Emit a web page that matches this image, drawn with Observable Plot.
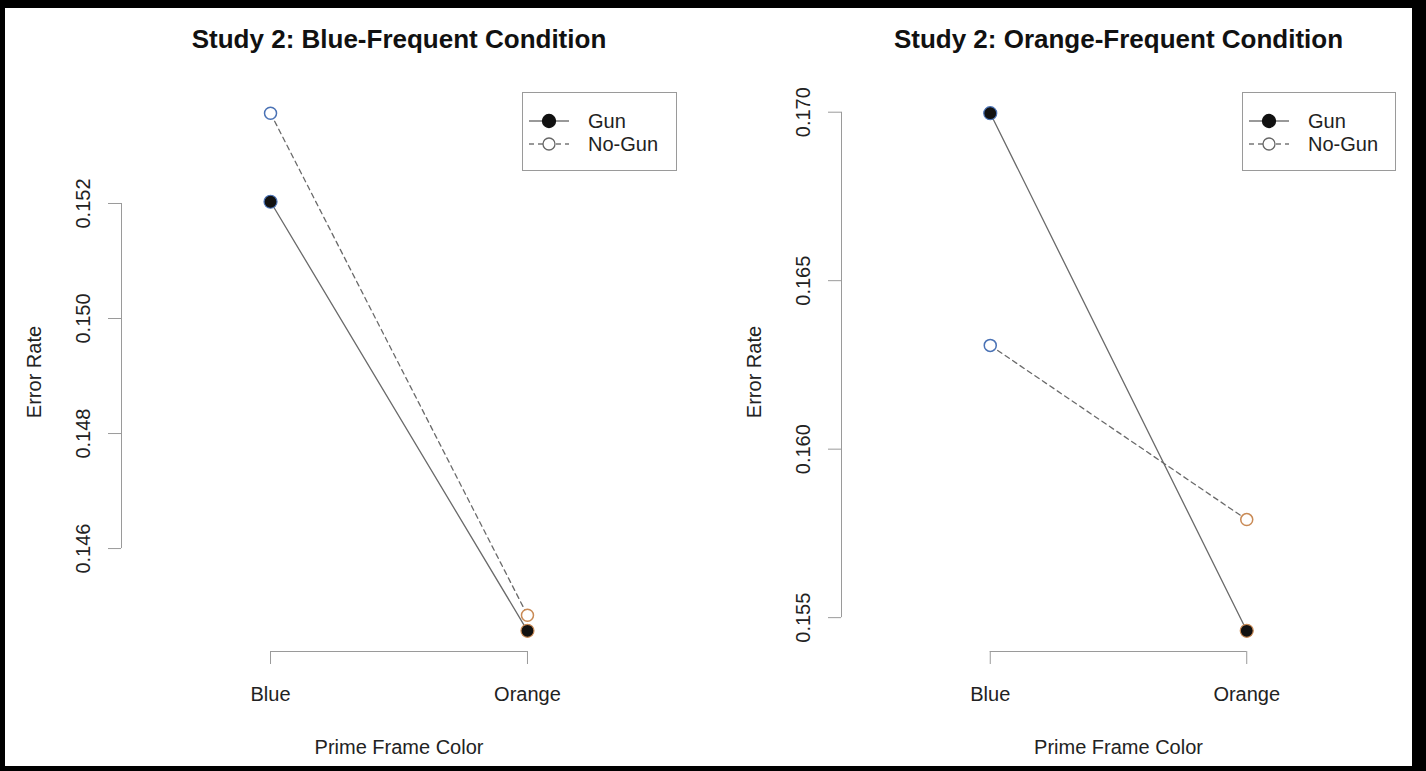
<!DOCTYPE html>
<html>
<head>
<meta charset="utf-8">
<script src="https://cdn.jsdelivr.net/npm/d3@7"></script>
<script src="https://cdn.jsdelivr.net/npm/@observablehq/plot@0.6"></script>
<style>
  body { margin: 0; background: #fff; font-family: "Liberation Sans", Arial, Helvetica, sans-serif; }
  #page { position: relative; width: 1426px; height: 771px; overflow: hidden; background: #fff; }
  #border { position: absolute; left: 0; top: 0; width: 1426px; height: 771px; box-sizing: border-box;
            border-style: solid; border-color: #000; border-width: 8px 14px 5px 5px; pointer-events: none; z-index: 10; }
  .legend { position: absolute; top: 92px; height: 79px; border: 1px solid #9a9a9a; box-sizing: border-box; background: #fff; }
  .legend .row { position: absolute; left: 0; height: 24px; width: 100%; }
  .legend svg { position: absolute; left: 5px; top: 0; }
  .legend span { position: absolute; left: 65px; top: 0; line-height: 24px; font-size: 20px; color: #222; }
</style>
</head>
<body>
<div id="page"><div id="border"></div></div>
<script>
// ---- data ----
const frames = ["Blue", "Orange"];
const conditions = ["Gun", "No-Gun"];
const panelTitles = ["Study 2: Blue-Frequent Condition", "Study 2: Orange-Frequent Condition"];
const gunBlueFrequent = [0.15203, 0.14457];
const noGunBlueFrequent = [0.15357, 0.14484];
const gunOrangeFrequent = [0.16997, 0.15461];
const noGunOrangeFrequent = [0.16308, 0.15791];
const ticksBlueFrequent = [0.146, 0.148, 0.150, 0.152];
const ticksOrangeFrequent = [0.155, 0.160, 0.165, 0.170];
const xLabel = "Prime Frame Color";
const yLabel = "Error Rate";

// ---- style ----
const frameColor = { Blue: "#4a72b5", Orange: "#c98a55" };
const axisGray = "#9a9a9a";
const lineGray = "#6a6a6a";
const textColor = "#222";
const xlim = [0.5, 2.5];

function panel({ title, gun, noGun, ticks, marginLeft, marginRight }) {
  const gunRows = frames.map((f, i) => ({ frame: f, x: i + 1, v: gun[i] }));
  const noGunRows = frames.map((f, i) => ({ frame: f, x: i + 1, v: noGun[i] }));
  const all = gun.concat(noGun);
  const lo = d3.min(all), hi = d3.max(all), r = hi - lo;
  const yDom = [lo - 0.04 * r, hi + 0.04 * r];
  const xr = xlim[1] - xlim[0];
  const xDom = [xlim[0] - 0.04 * xr, xlim[1] + 0.04 * xr];
  return Plot.plot({
    width: 713, height: 771,
    marginLeft, marginRight, marginTop: 92, marginBottom: 120,
    x: { type: "linear", domain: xDom, axis: null },
    y: { type: "linear", domain: yDom, axis: null },
    color: { type: "identity" },
    style: { fontFamily: '"Liberation Sans", Arial, sans-serif', fontSize: "20px", background: "transparent", color: textColor },
    marks: [
      Plot.axisY(ticks, { anchor: "left", tickRotate: -90, tickSize: 13, tickPadding: 19, fontSize: 20,
        stroke: axisGray, fill: textColor, tickFormat: d3.format(".3f"), label: null }),
      Plot.ruleX([xDom[0]], { y1: d3.min(ticks), y2: d3.max(ticks), stroke: axisGray }),
      Plot.axisX([1, 2], { anchor: "bottom", tickSize: 13, tickPadding: 22, fontSize: 20,
        stroke: axisGray, fill: textColor, tickFormat: (d) => frames[d - 1], label: null }),
      Plot.ruleY([yDom[0]], { x1: 1, x2: 2, stroke: axisGray }),
      Plot.line(gunRows, { x: "x", y: "v", stroke: lineGray, strokeWidth: 1.3 }),
      Plot.line(noGunRows, { x: "x", y: "v", stroke: lineGray, strokeWidth: 1.3, strokeDasharray: "5,4" }),
      Plot.dot(noGunRows, { x: "x", y: "v", r: 6, fill: "white", stroke: (d) => frameColor[d.frame], strokeWidth: 1.5 }),
      Plot.dot(gunRows, { x: "x", y: "v", r: 6.5, fill: "#111", stroke: (d) => frameColor[d.frame], strokeWidth: 1.2 }),
      Plot.text([title], { frameAnchor: "top", dy: -45, lineAnchor: "bottom", fontSize: 26, fontWeight: "bold", fill: "#111" }),
      Plot.text([yLabel], { frameAnchor: "left", rotate: -90, dx: -81, lineAnchor: "bottom", textAnchor: "middle", fontSize: 20, fill: textColor }),
      Plot.text([xLabel], { frameAnchor: "bottom", dy: 102, lineAnchor: "bottom", fontSize: 20, fill: textColor })
    ]
  });
}

function legend(left, width) {
  const div = document.createElement("div");
  div.className = "legend";
  div.style.left = left + "px";
  div.style.width = width + "px";
  conditions.forEach((c, i) => {
    const row = document.createElement("div");
    row.className = "row";
    row.style.top = (16 + i * 23) + "px";
    const dashed = c === "No-Gun";
    row.innerHTML =
      `<svg width="42" height="24"><line x1="1" x2="41" y1="12" y2="12" stroke="#777" stroke-width="1.3" ${dashed ? 'stroke-dasharray="5,4"' : ""}/>` +
      `<circle cx="21" cy="12" r="${dashed ? 6 : 6.5}" fill="${dashed ? "white" : "#111"}" stroke="${dashed ? "#666" : "#111"}" stroke-width="1.3"/></svg>` +
      `<span>${c}</span>`;
    div.appendChild(row);
  });
  return div;
}

const page = document.getElementById("page");
const p1 = panel({ title: panelTitles[0], gun: gunBlueFrequent, noGun: noGunBlueFrequent, ticks: ticksBlueFrequent, marginLeft: 121, marginRight: 37 });
p1.style.position = "absolute"; p1.style.left = "0px"; p1.style.top = "0px";
const p2 = panel({ title: panelTitles[1], gun: gunOrangeFrequent, noGun: noGunOrangeFrequent, ticks: ticksOrangeFrequent, marginLeft: 128, marginRight: 31 });
p2.style.position = "absolute"; p2.style.left = "713px"; p2.style.top = "0px";
page.insertBefore(p1, page.firstChild);
page.insertBefore(p2, page.firstChild.nextSibling);
page.appendChild(legend(522, 155));
page.appendChild(legend(1242, 154));
</script>
</body>
</html>
